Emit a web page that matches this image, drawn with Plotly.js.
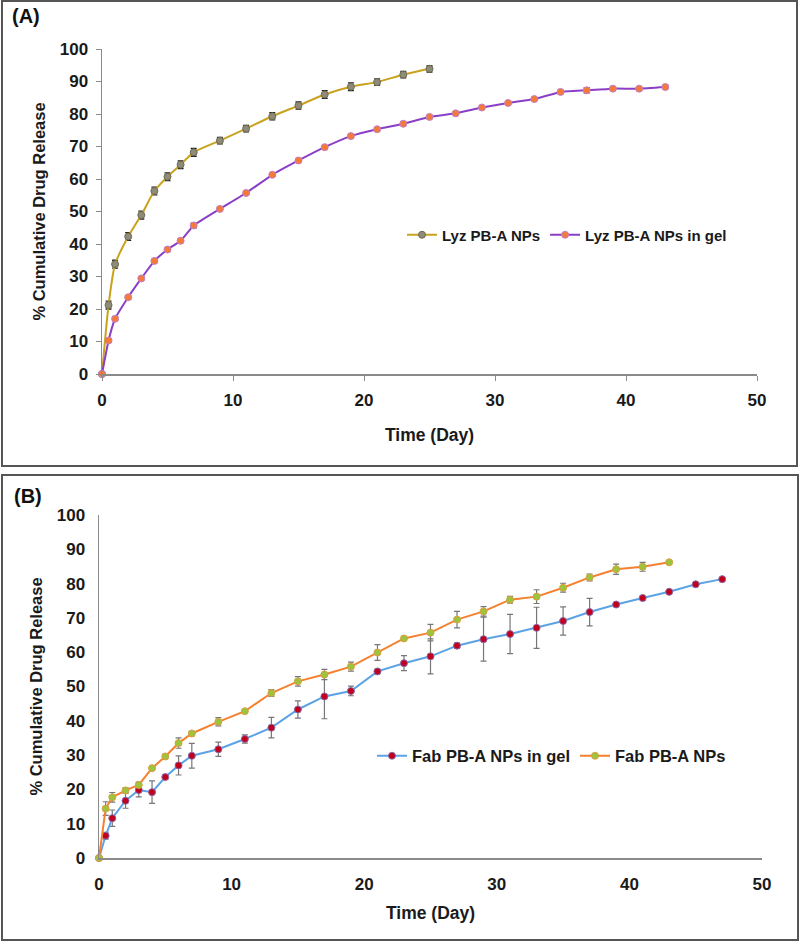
<!DOCTYPE html>
<html>
<head>
<meta charset="utf-8">
<script src="https://cdn.plot.ly/plotly-3.0.1.min.js"></script>
<style>html,body{margin:0;padding:0;background:#fff;}#chart{width:800px;height:942px;}</style>
</head>
<body>
<div id="chart"></div>
<script>
// ---------- Panel A data ----------
const lyzNPsDays = [0, 0.5, 1, 2, 3, 4, 5, 6, 7, 9, 11, 13, 15, 17, 19, 21, 23, 25];
const lyzNPsRelease = [0, 21.2, 33.8, 42.3, 48.9, 56.3, 60.7, 64.4, 68.2, 71.8, 75.5, 79.3, 82.6, 86.0, 88.4, 89.8, 92.1, 93.9];
const lyzNPsErr = [0, 1.2, 1.2, 1.2, 1.2, 1.2, 1.2, 1.2, 1.2, 1.0, 1.0, 1.1, 1.1, 1.2, 1.2, 1.0, 1.0, 1.0];

const lyzGelDays = [0, 0.5, 1, 2, 3, 4, 5, 6, 7, 9, 11, 13, 15, 17, 19, 21, 23, 25, 27, 29, 31, 33, 35, 37, 39, 41, 43];
const lyzGelRelease = [0, 10.3, 17.0, 23.6, 29.4, 34.8, 38.3, 41.0, 45.7, 50.8, 55.7, 61.3, 65.7, 69.8, 73.2, 75.3, 77.0, 79.1, 80.2, 82.0, 83.4, 84.6, 86.8, 87.3, 87.8, 87.8, 88.3];
const lyzGelErr = [0, 0.5, 0.5, 0.5, 0.5, 0.5, 0.5, 0.5, 0.7, 0.5, 0.5, 0.5, 0.5, 0.5, 0.5, 0.5, 0.5, 0.5, 0.5, 0.5, 0.5, 0.5, 0.5, 0.8, 0.5, 0.6, 0.5];

// ---------- Panel B data ----------
const fabGelDays = [0, 0.5, 1, 2, 3, 4, 5, 6, 7, 9, 11, 13, 15, 17, 19, 21, 23, 25, 27, 29, 31, 33, 35, 37, 39, 41, 43, 45, 47];
const fabGelRelease = [0, 6.5, 11.6, 16.7, 19.8, 19.2, 23.6, 27.0, 29.8, 31.7, 34.7, 38.0, 43.3, 47.1, 48.7, 54.4, 56.8, 58.8, 61.9, 63.8, 65.3, 67.1, 69.1, 71.7, 73.9, 75.8, 77.6, 79.8, 81.3];
const fabGelErr = [0, 1, 2.4, 2.2, 2.0, 3.3, 0.6, 2.8, 3.6, 2.1, 1.2, 3.0, 2.5, 6.5, 1.4, 0.6, 2.2, 5.1, 0.8, 6.4, 5.7, 6.0, 4.1, 4.0, 0.5, 0.5, 0.5, 0.4, 0.4];

const fabNPsDays = [0, 0.5, 1, 2, 3, 4, 5, 6, 7, 9, 11, 13, 15, 17, 19, 21, 23, 25, 27, 29, 31, 33, 35, 37, 39, 41, 43];
const fabNPsRelease = [0, 14.4, 17.7, 19.7, 21.3, 26.2, 29.6, 33.5, 36.3, 39.7, 42.8, 48.1, 51.5, 53.5, 55.8, 59.9, 64.0, 65.7, 69.5, 71.9, 75.3, 76.2, 78.8, 81.8, 84.2, 84.9, 86.2];
const fabNPsErr = [0, 2.0, 1.4, 0.8, 0.8, 0.6, 0.6, 1.5, 0.6, 1.2, 0.5, 1.0, 1.4, 1.5, 1.3, 2.3, 0.5, 2.4, 2.4, 1.4, 1.0, 2.0, 1.3, 1.0, 1.5, 1.3, 0];

const xTicks = [0, 10, 20, 30, 40, 50];
const yTicks = [0, 10, 20, 30, 40, 50, 60, 70, 80, 90, 100];

const FONT = 'Liberation Sans, Arial, sans-serif';

const traces = [
  {
    x: lyzNPsDays, y: lyzNPsRelease, name: 'Lyz PB-A NPs', type: 'scatter', mode: 'lines+markers',
    xaxis: 'x', yaxis: 'y', legend: 'legend', cliponaxis: false,
    line: {color: '#C9A21E', width: 2, shape: 'spline', smoothing: 0.6},
    marker: {color: '#8E8C78', size: 7, line: {color: '#6E6A50', width: 1}},
    error_y: {type: 'data', array: lyzNPsErr, visible: true, color: '#222', thickness: 1.3, width: 3}
  },
  {
    x: lyzGelDays, y: lyzGelRelease, name: 'Lyz PB-A NPs in gel', type: 'scatter', mode: 'lines+markers',
    xaxis: 'x', yaxis: 'y', legend: 'legend', cliponaxis: false,
    line: {color: '#8A3FC6', width: 2, shape: 'spline', smoothing: 0.4},
    marker: {color: '#F47A38', size: 7, line: {color: '#C47FC8', width: 1}},
    error_y: {type: 'data', array: lyzGelErr, visible: true, color: '#222', thickness: 1.3, width: 3}
  },
  {
    x: fabGelDays, y: fabGelRelease, name: 'Fab PB-A NPs in gel', type: 'scatter', mode: 'lines+markers',
    xaxis: 'x2', yaxis: 'y2', legend: 'legend2', cliponaxis: false,
    line: {color: '#5BA3E4', width: 2},
    marker: {color: '#C0001C', size: 7, line: {color: '#8A6AA8', width: 1}},
    error_y: {type: 'data', array: fabGelErr, visible: true, color: '#777', thickness: 1.2, width: 3}
  },
  {
    x: fabNPsDays, y: fabNPsRelease, name: 'Fab PB-A NPs', type: 'scatter', mode: 'lines+markers',
    xaxis: 'x2', yaxis: 'y2', legend: 'legend2', cliponaxis: false,
    line: {color: '#F5812F', width: 2},
    marker: {color: '#9CC43C', size: 7, line: {color: '#D9A040', width: 1}},
    error_y: {type: 'data', array: fabNPsErr, visible: true, color: '#777', thickness: 1.2, width: 3}
  }
];

const W = 800, H = 942;
function px(x) { return x / W; }
function py(y) { return 1 - y / H; }

const axisFont = {family: FONT, size: 17, color: '#1a1a1a', weight: 'bold'};
const xTitleFont = {family: FONT, size: 17.5, color: '#1a1a1a', weight: 'bold'};
const yTitleFont = {family: FONT, size: 16.5, color: '#1a1a1a', weight: 'bold'};

function xAxis(domain, anchor, tickcolor, standoff) {
  return {
    domain: domain, anchor: anchor, range: [0, 50], tickvals: xTicks, ticktext: xTicks.map(String),
    showgrid: false, zeroline: false, showline: true, linecolor: '#8a8a8a', linewidth: 1.5,
    ticks: 'outside', ticklen: 5, tickcolor: tickcolor, tickwidth: 1, ticklabelstandoff: 5,
    tickfont: axisFont, fixedrange: true,
    title: {text: 'Time (Day)', font: xTitleFont, standoff: standoff}
  };
}
function yAxis(domain, anchor, tickcolor) {
  return {
    domain: domain, anchor: anchor, range: [0, 100], tickvals: yTicks, ticktext: yTicks.map(String),
    showgrid: false, zeroline: false, showline: true, linecolor: '#8a8a8a', linewidth: 1.5,
    ticks: 'outside', ticklen: 5, tickcolor: tickcolor, tickwidth: 1, ticklabelstandoff: 4,
    tickfont: axisFont, fixedrange: true,
    title: {text: '% Cumulative Drug Release', font: yTitleFont, standoff: 10}
  };
}

const layout = {
  width: W, height: H,
  margin: {l: 0, r: 0, t: 0, b: 0},
  paper_bgcolor: '#fff', plot_bgcolor: '#fff',
  showlegend: true,
  xaxis: xAxis([px(102), px(757)], 'y', '#8a8a8a', 20),
  yaxis: yAxis([py(374), py(49)], 'x', '#8a8a8a'),
  xaxis2: xAxis([px(99), px(762)], 'y2', 'rgba(0,0,0,0)', 14),
  yaxis2: yAxis([py(858), py(515)], 'x2', 'rgba(0,0,0,0)'),
  legend: {
    orientation: 'h', x: px(402), y: py(235), xanchor: 'left', yanchor: 'middle',
    font: {family: FONT, size: 15, color: '#1a1a1a', weight: 'bold'}, bgcolor: 'rgba(0,0,0,0)',
    traceorder: 'normal'
  },
  legend2: {
    orientation: 'h', x: px(372), y: py(756), xanchor: 'left', yanchor: 'middle',
    font: {family: FONT, size: 16.5, color: '#1a1a1a', weight: 'bold'}, bgcolor: 'rgba(0,0,0,0)',
    traceorder: 'normal'
  },
  shapes: [
    {type: 'rect', xref: 'paper', yref: 'paper', x0: px(2), x1: px(797), y0: py(1), y1: py(466),
     line: {color: '#555', width: 2}, fillcolor: 'rgba(0,0,0,0)', layer: 'below'},
    {type: 'rect', xref: 'paper', yref: 'paper', x0: px(2), x1: px(798), y0: py(475), y1: py(940),
     line: {color: '#555', width: 2}, fillcolor: 'rgba(0,0,0,0)', layer: 'below'}
  ],
  annotations: [
    {text: '(A)', xref: 'paper', yref: 'paper', x: px(10), y: py(16), xanchor: 'left', yanchor: 'middle',
     showarrow: false, font: {family: FONT, size: 20, color: '#111', weight: 'bold'}},
    {text: '(B)', xref: 'paper', yref: 'paper', x: px(12), y: py(496), xanchor: 'left', yanchor: 'middle',
     showarrow: false, font: {family: FONT, size: 20, color: '#111', weight: 'bold'}}
  ]
};

Plotly.newPlot('chart', traces, layout, {staticPlot: true, displayModeBar: false});
</script>
</body>
</html>
